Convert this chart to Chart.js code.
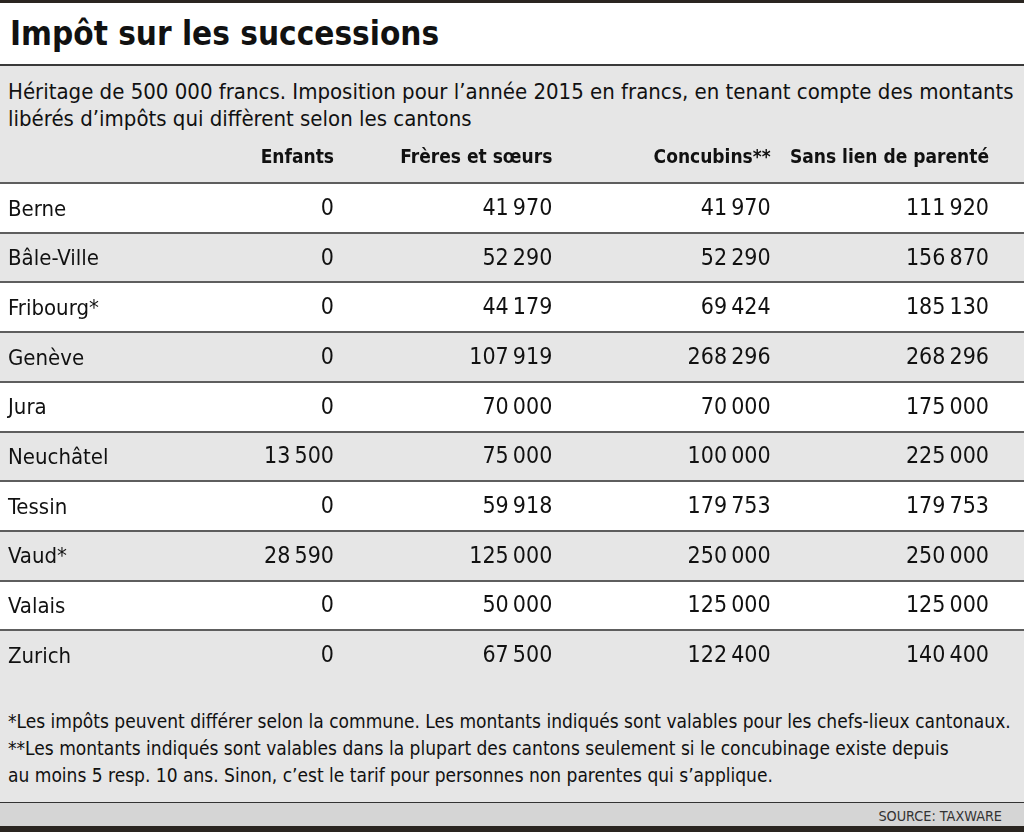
<!DOCTYPE html>
<html lang="fr">
<head>
<meta charset="utf-8">
<title>Impôt sur les successions</title>
<script src="https://cdn.jsdelivr.net/npm/chart.js"></script>
<style>
  html, body { margin: 0; padding: 0; }
  body {
    width: 1024px; height: 832px; position: relative; overflow: hidden;
    background: #fff; color: #111;
    font-family: "Liberation Sans Narrow", "DejaVu Sans Condensed", "Roboto Condensed", "Open Sans Condensed", "Noto Sans", sans-serif;
  }
  .abs { position: absolute; left: 0; width: 1024px; white-space: nowrap; }
  #topbar { top: 0; height: 3px; background: #2a2520; }
  #title { top: 4px; height: 60px; font-weight: bold; font-size: 33px; line-height: 60px; padding-left: 10px; box-sizing: border-box; }
  #rule { top: 64px; height: 2px; background: #3a3a3a; }
  #grey { top: 66px; height: 736px; background: #e6e6e6; }
  #subtitle { top: 78px; font-size: 22px; line-height: 27px; padding-left: 8px; box-sizing: border-box; }
  #table { top: 133px; }
  #notes { top: 708px; font-size: 19px; line-height: 27px; padding-left: 8px; box-sizing: border-box; }
  #rule2 { top: 802px; height: 1px; background: #333; }
  #source { top: 803px; height: 23px; background: #d5d5d5; font-size: 14.3px; line-height: 27px; text-align: right; padding-right: 22px; box-sizing: border-box; color: #333; }
  #bottombar { top: 826px; height: 6px; background: #2a2520; }
</style>
</head>
<body>
<div id="topbar" class="abs"></div>
<div id="title" class="abs">Impôt sur les successions</div>
<div id="rule" class="abs"></div>
<div id="grey" class="abs"></div>
<div id="subtitle" class="abs">Héritage de 500 000 francs. Imposition pour l’année 2015 en francs, en tenant compte des montants<br>libérés d’impôts qui diffèrent selon les cantons</div>
<canvas id="table" class="abs" width="1024" height="547"></canvas>
<div id="notes" class="abs">*Les impôts peuvent différer selon la commune. Les montants indiqués sont valables pour les chefs-lieux cantonaux.<br>**Les montants indiqués sont valables dans la plupart des cantons seulement si le concubinage existe depuis<br>au moins 5 resp. 10 ans. Sinon, c’est le tarif pour personnes non parentes qui s’applique.</div>
<div id="rule2" class="abs"></div>
<div id="source" class="abs">SOURCE: TAXWARE</div>
<div id="bottombar" class="abs"></div>

<script>
/* ----- données ----- */
const cantons = ["Berne", "Bâle-Ville", "Fribourg*", "Genève", "Jura", "Neuchâtel", "Tessin", "Vaud*", "Valais", "Zurich"];
const columns = ["Enfants", "Frères et sœurs", "Concubins**", "Sans lien de parenté"];
const enfants = [0, 0, 0, 0, 0, 13500, 0, 28590, 0, 0];
const freresSoeurs = [41970, 52290, 44179, 107919, 70000, 75000, 59918, 125000, 50000, 67500];
const concubins = [41970, 52290, 69424, 268296, 70000, 100000, 179753, 250000, 125000, 122400];
const sansLien = [111920, 156870, 185130, 268296, 175000, 225000, 179753, 250000, 125000, 140400];

const FONT = '"Liberation Sans Narrow", "DejaVu Sans Condensed", "Roboto Condensed", "Open Sans Condensed", "Noto Sans", sans-serif';

function formatNumber(v) {
  return String(v).replace(/\B(?=(\d{3})+(?!\d))/g, "\u2009");
}

// pas de marge automatique autour des axes
function noPadding(s) {
  s.paddingLeft = 0;
  s.paddingRight = 0;
  s.paddingTop = 0;
  s.paddingBottom = 0;
}

/* ----- datasets : une colonne = un dataset ----- */
const series = [enfants, freresSoeurs, concubins, sansLien];
const datasets = series.map((values, col) => ({
  label: columns[col],
  data: values.map((v, i) => ({ x: col + 1, y: cantons[i], v: v })),
  pointRadius: 0,
  pointHoverRadius: 0,
}));

/* ----- fond des lignes (une sur deux blanche) ----- */
const rowBands = {
  id: "rowBands",
  beforeDraw(chart) {
    const { ctx, chartArea, scales } = chart;
    const y = scales.y;
    const half = (y.getPixelForValue(1) - y.getPixelForValue(0)) / 2;
    ctx.save();
    ctx.fillStyle = "#ffffff";
    cantons.forEach((c, i) => {
      if (i % 2 === 0) {
        const py = y.getPixelForValue(i);
        ctx.fillRect(chartArea.left, py - half, chartArea.right - chartArea.left, half * 2);
      }
    });
    ctx.restore();
  },
};

/* ----- texte des cellules ----- */
const cellText = {
  id: "cellText",
  afterDatasetsDraw(chart) {
    const { ctx } = chart;
    ctx.save();
    ctx.font = "23px " + FONT;
    ctx.fillStyle = "#111";
    ctx.textAlign = "right";
    ctx.textBaseline = "middle";
    chart.data.datasets.forEach((ds, d) => {
      chart.getDatasetMeta(d).data.forEach((pt, i) => {
        ctx.fillText(formatNumber(ds.data[i].v), pt.x, pt.y + 1);
      });
    });
    ctx.restore();
  },
};

let taxTable = new Chart("table", {
  type: "scatter",
  data: { datasets: datasets },
  options: {
    responsive: false,
    animation: false,
    events: [],
    layout: { padding: 0 },
    plugins: {
      legend: { display: false },
      tooltip: { enabled: false },
      title: { display: false },
    },
    scales: {
      x: {
        type: "linear",
        position: "top",
        min: -0.5298,
        max: 4.1603,
        afterBuildTicks: (s) => {
          s.ticks = columns.map((c, i) => ({ value: i + 1 }));
        },
        afterFit: (s) => {
          s.height = 50;
          noPadding(s);
        },
        ticks: {
          callback: (v) => columns[v - 1],
          align: "end",
          autoSkip: false,
          maxRotation: 0,
          padding: 14,
          color: "#111",
          font: { family: FONT, size: 19, weight: "bold" },
        },
        grid: { display: false, drawTicks: false },
        border: { display: false },
      },
      y: {
        type: "category",
        labels: cantons,
        offset: true,
        afterFit: (s) => {
          s.width = 0;
          noPadding(s);
        },
        ticks: {
          mirror: true,
          padding: 8,
          labelOffset: 2,
          color: "#111",
          font: { family: FONT, size: 22 },
        },
        grid: {
          offset: true,
          drawTicks: false,
          lineWidth: 2,
          color: (c) => (c.type === "tick" ? "#5e5e5e" : "rgba(0,0,0,0)"),
        },
        border: { display: false },
      },
    },
  },
  plugins: [rowBands, cellText],
});
</script>
</body>
</html>
